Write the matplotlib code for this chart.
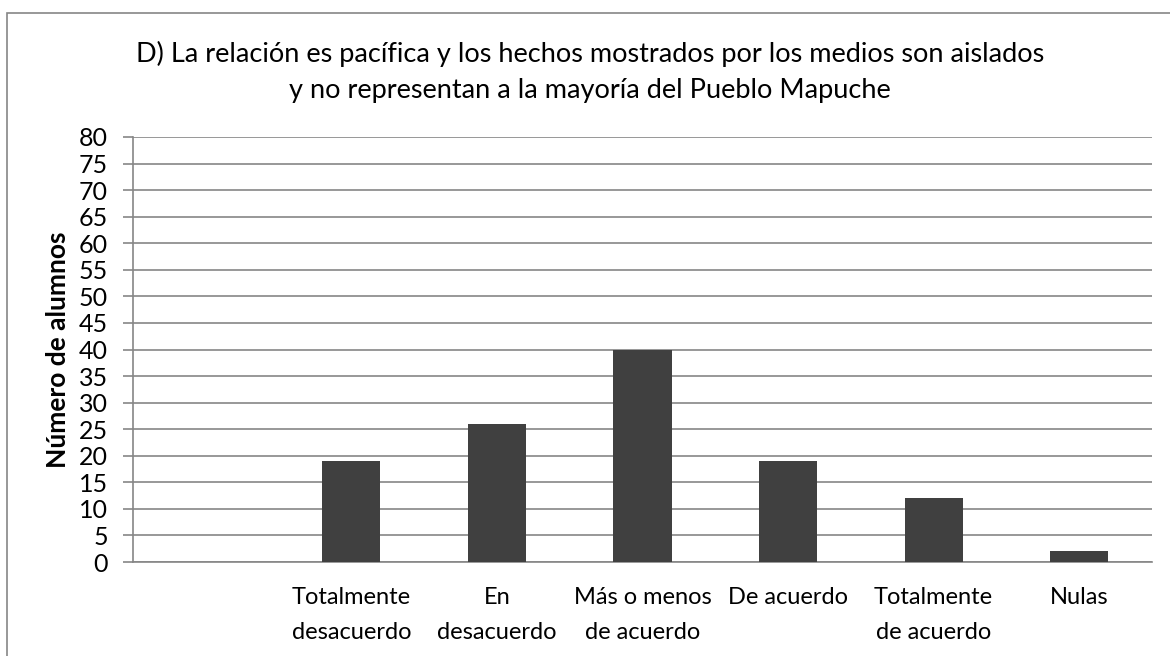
import matplotlib.pyplot as plt
from matplotlib.patches import Rectangle

categorias = ['', 'Totalmente\ndesacuerdo', 'En\ndesacuerdo', 'Más o menos\nde acuerdo',
              'De acuerdo', 'Totalmente\nde acuerdo', 'Nulas']
alumnos = [0, 19, 26, 40, 19, 12, 2]
yticks = list(range(0, 81, 5))

plt.rcParams['font.family'] = ['Lato', 'DejaVu Sans']

fig = plt.figure(figsize=(11.7, 6.56), dpi=100)
ax = fig.add_axes([133 / 1170, 1 - 562 / 656, (1152 - 133) / 1170, (562 - 137) / 656])

x = range(len(categorias))
ax.bar(x, alumnos, width=0.4, color='#404040', zorder=3)
ax.set_xlim(-0.5, len(categorias) - 0.5)
ax.set_ylim(0, 80)
ax.set_yticks(yticks)
ax.set_xticks(list(x))
ax.set_xticklabels(categorias, fontsize=17, linespacing=1.85, va='top')
ax.tick_params(axis='x', length=0, pad=18)
ax.tick_params(axis='y', length=7, width=1.2, color='#868686', labelsize=18, pad=11)
ax.grid(axis='y', color='#868686', linewidth=1.2, zorder=0)

for s in ['top', 'right']:
    ax.spines[s].set_visible(False)
for s in ['left', 'bottom']:
    ax.spines[s].set_color('#868686')
    ax.spines[s].set_linewidth(1.2)

ax.set_ylabel('Número de alumnos', fontsize=19, fontweight='bold')
ax.yaxis.set_label_coords(-0.062, 0.5)

fig.text(590 / 1170, 1 - 72 / 656,
         'D) La relación es pacífica y los hechos mostrados por los medios son aislados\n'
         'y no representan a la mayoría del Pueblo Mapuche',
         ha='center', va='center', fontsize=19.5, linespacing=1.55)

# marco exterior del gráfico
fig.patches.append(Rectangle((7 / 1170, -0.05), 1.1, 1 - 13 / 656 + 0.05,
                             transform=fig.transFigure, fill=False,
                             edgecolor='#868686', linewidth=1.2))

fig.savefig('out.png', dpi=100)
